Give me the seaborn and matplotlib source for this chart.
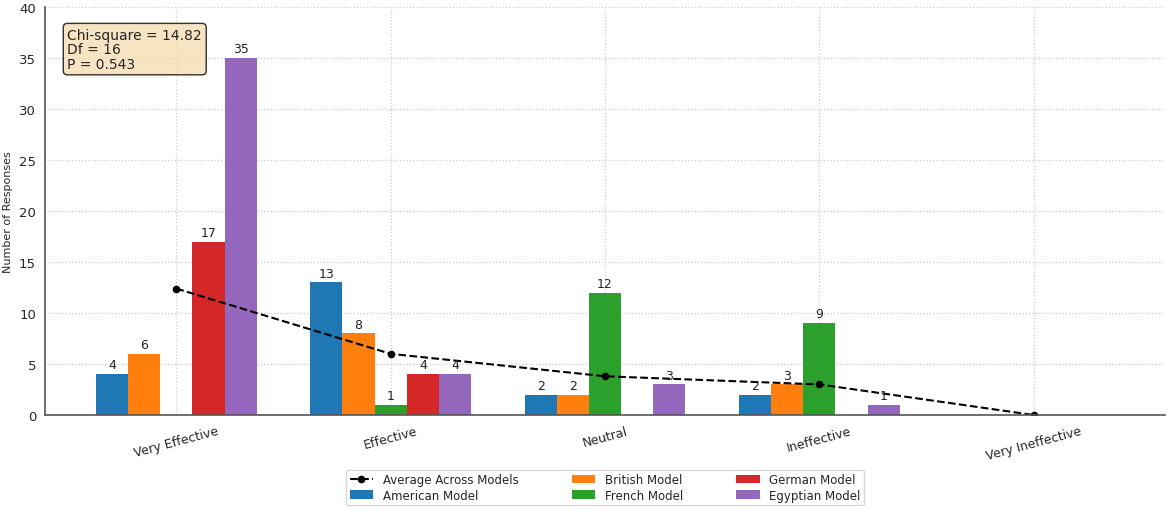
import matplotlib
matplotlib.use("Agg")
import matplotlib.pyplot as plt
import seaborn as sns
import pandas as pd
import numpy as np

categories = ["Very Effective", "Effective", "Neutral", "Ineffective", "Very Ineffective"]
models = ["American Model", "British Model", "French Model", "German Model", "Egyptian Model"]
american = [4, 13, 2, 2, 0]
british = [6, 8, 2, 3, 0]
french = [0, 1, 12, 9, 0]
german = [17, 4, 0, 0, 0]
egyptian = [35, 4, 3, 1, 0]
colors = ["#1f77b4", "#ff7f0e", "#2ca02c", "#d62728", "#9467bd"]
stats_text = "Chi-square = 14.82\nDf = 16\nP = 0.543"

series = [american, british, french, german, egyptian]
rows = []
for m, vals in zip(models, series):
    for c, v in zip(categories, vals):
        rows.append({"Category": c, "Model": m, "Responses": v})
df = pd.DataFrame(rows)
avg = np.mean(np.array(series), axis=0)

sns.set_style("white")
plt.rcParams['font.family'] = ['DejaVu Sans']

fig = plt.figure(figsize=(11.7, 5.1), dpi=100)
ax = fig.add_axes([0.0385, 0.1843, 0.9572, 0.7997])

sns.barplot(data=df, x="Category", y="Responses", hue="Model", order=categories,
            hue_order=models, palette=colors, width=0.75, saturation=1,
            linewidth=0, ax=ax, legend=True)

for cont in ax.containers:
    labels = [f"{int(b.get_height())}" if b.get_height() > 0 else "" for b in cont]
    ax.bar_label(cont, labels=labels, padding=2, fontsize=9, color="#222222")

line, = ax.plot(range(len(categories)), avg, linestyle="--", color="black",
                marker="o", markersize=4.5, linewidth=1.5, label="Average Across Models")

ax.set_xlim(-0.6125, 4.6125)
ax.set_ylim(0, 40)
ax.set_yticks(range(0, 41, 5))
ax.set_xlabel("")
ax.set_ylabel("Number of Responses", fontsize=8)
ax.tick_params(axis="y", labelsize=9.5, length=3, color="#555555")
ax.tick_params(axis="x", labelsize=9, length=3, color="#555555")
plt.setp(ax.get_xticklabels(), rotation=15)
ax.grid(True, linestyle=":", color="#cccccc", linewidth=0.9)
ax.set_axisbelow(True)
sns.despine(ax=ax)
for s in ["left", "bottom"]:
    ax.spines[s].set_color("#555555")
    ax.spines[s].set_linewidth(1.2)

ax.text(0.02, 0.95, stats_text, transform=ax.transAxes, fontsize=10, va="top", ha="left",
        linespacing=1.05,
        bbox=dict(boxstyle="round,pad=0.3", facecolor="wheat", edgecolor="black", alpha=0.8))

handles, labels = ax.get_legend_handles_labels()
hmap = dict(zip(labels, handles))
order = ["Average Across Models"] + models
ax.legend([hmap[l] for l in order], order, loc="upper center", bbox_to_anchor=(0.5, -0.12),
          ncol=3, fontsize=8.5, frameon=True, columnspacing=4.5, handlelength=2,
          borderpad=0.3, labelspacing=0.2)

fig.savefig("out.png", dpi=100)
